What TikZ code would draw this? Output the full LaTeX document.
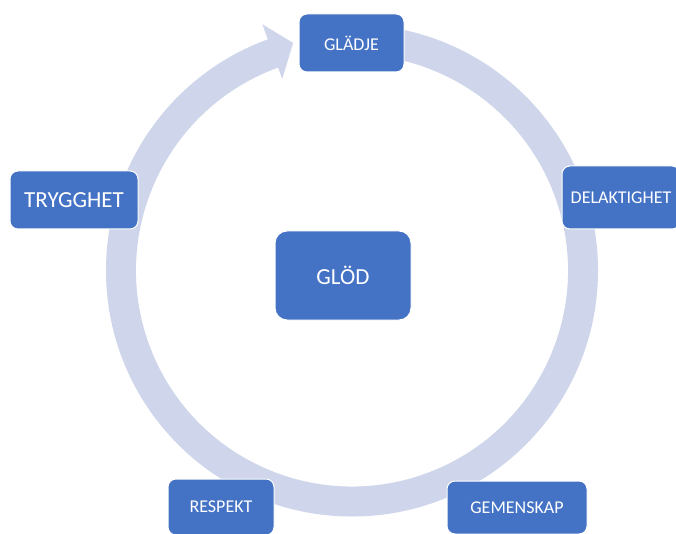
\documentclass[tikz,border=0pt]{standalone}
\usepackage{fontspec}
\setmainfont{Carlito}
\definecolor{boxblue}{HTML}{4472C4}
\definecolor{ringcol}{HTML}{CFD5EA}
\begin{document}
\begin{tikzpicture}[x=1pt,y=1pt,
  box/.style={fill=boxblue, draw=white, line width=1pt, rounded corners=8pt,
    text=white, inner sep=0pt, font=\fontsize{18}{21}\selectfont},
  bigbox/.style={box, rounded corners=12pt, font=\fontsize{23}{26}\selectfont},
  ring/.style={fill=ringcol}]
\useasboundingbox (0,0) rectangle (676,-534);
\fill[white] (0,0) rectangle (676,-534);
\coordinate (C) at (352,-270.5);
% circular arrow
\fill[ring] ([shift={(90:246)}]C) arc[start angle=90, end angle=-250, radius=246]
  -- ([shift={(-250:262)}]C) -- ([shift={(-255.5:235)}]C)
  -- ([shift={(-250:204)}]C) -- ([shift={(-250:216)}]C)
  arc[start angle=-250, end angle=90, radius=216] -- cycle;
% boxes
\node[box, minimum width=105pt, minimum height=58pt] (gladje) at (351.5,-43) {GLÄDJE};
\node[box, minimum width=118pt, minimum height=63pt] (delak) at (621,-197.5) {DELAKTIGHET};
\node[box, minimum width=128pt, minimum height=58pt, font=\fontsize{23}{26}\selectfont] (trygg) at (74,-200) {TRYGGHET};
\node[bigbox, minimum width=136pt, minimum height=89pt] (glod) at (343,-275.5) {GLÖD};
\node[box, minimum width=106pt, minimum height=56pt] (respekt) at (221,-507) {RESPEKT};
\node[box, minimum width=140pt, minimum height=53pt] (gemen) at (517,-507.5) {GEMENSKAP};
\end{tikzpicture}
\end{document}
